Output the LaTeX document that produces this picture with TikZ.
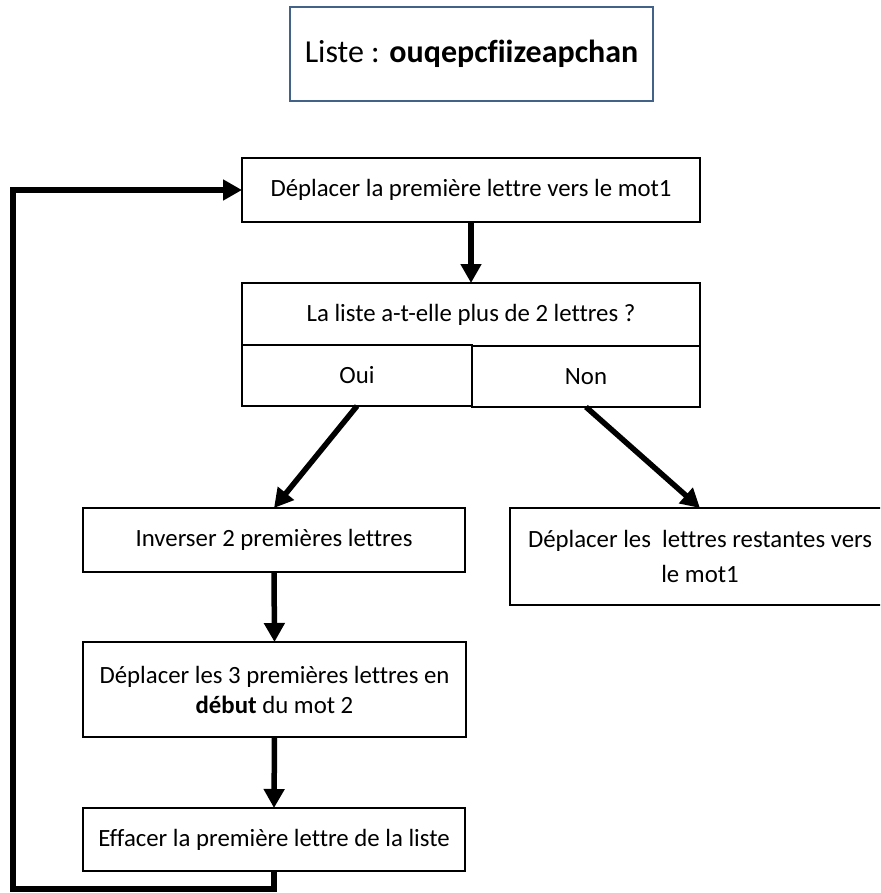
\documentclass[tikz,border=0pt]{standalone}
\usepackage{fontspec}
\setmainfont{Carlito}[Ligatures={NoCommon}]
\usetikzlibrary{arrows.meta}
\definecolor{titleborder}{RGB}{66,98,135}
\tikzset{
  box/.style={draw=black, line width=1.4pt, fill=white, inner sep=0pt, outer sep=0pt, align=center,
    font=\fontsize{24.8}{30}\selectfont},
  arr/.style={line width=5.5pt, line join=miter, -{Triangle[width=20pt,length=19pt]}},
}
\begin{document}
\begin{tikzpicture}[x=1pt,y=-1pt]
\useasboundingbox (0,0) rectangle (880,893);
\clip (0,0) rectangle (880,893);
% title
\node[box, draw=titleborder, minimum width=363pt, minimum height=94pt, font=\fontsize{32}{38}\selectfont]
  (title) at (471.5,54) {Liste : \textbf{ouqepcfiizeapchan}};
% first step
\node[box, minimum width=458pt, minimum height=64pt] (b1) at (471,190) {Déplacer la première lettre vers le mot1};
% decision
\node[box, minimum width=458pt, minimum height=63pt] (dec) at (471,314.5) {La liste a-t-elle plus de 2 lettres ?};
\node[box, minimum width=230pt, minimum height=61pt] (oui) at (357,375.5) {Oui};
\node[box, minimum width=228pt, minimum height=61pt] (non) at (586,376.5) {Non};
% branches
\node[box, minimum width=382pt, minimum height=64pt] (inv) at (274,540) {Inverser 2 premières lettres};
\node[box, minimum width=380pt, minimum height=97pt, font=\fontsize{24.8}{35}\selectfont] (rest) at (700,556.5)
  {Déplacer les\ \ lettres restantes vers\\le mot1};
\node[box, minimum width=383pt, minimum height=95pt] (b3) at (274.5,689.5)
  {Déplacer les 3 premières lettres en\\\textbf{début} du mot 2};
\node[box, minimum width=382pt, minimum height=63pt] (b4) at (274,839.5) {Effacer la première lettre de la liste};
% connectors
\draw[arr] (b1.south) -- (dec.north);
\draw[arr] (oui.south) -- (inv.north);
\draw[arr] (non.south) -- (rest.north);
\draw[arr] (inv.south) -- (b3.north);
\draw[arr] (b3.south) -- (b4.north);
\coordinate (loopcorner) at (13,889);
\draw[arr] (b4.south) |- (loopcorner) |- (b1.west);
\end{tikzpicture}
\end{document}
